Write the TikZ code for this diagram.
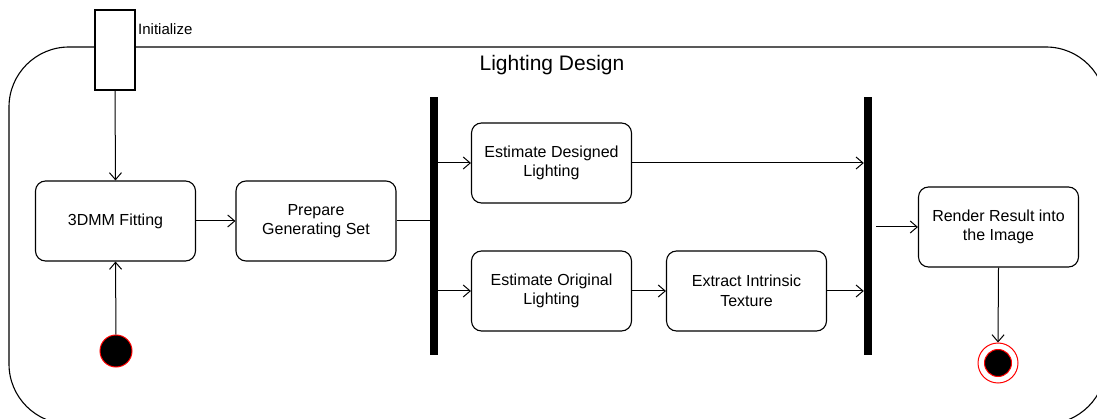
\documentclass[tikz,border=0pt]{standalone}
\usepackage{fontspec}
\setmainfont{Liberation Sans}
\usetikzlibrary{arrows.meta}
\begin{document}
\begin{tikzpicture}[x=1pt,y=-1pt,
  every node/.style={inner sep=0pt},
  action/.style={draw, line width=1.1pt, rounded corners=10pt, minimum width=160pt, minimum height=80pt,
    align=center, font=\fontsize{16}{19.5}\selectfont},
  bar/.style={fill=black, draw=none},
  flow/.style={line width=1pt, -{Straight Barb[length=7pt,width=12pt,line width=1pt]}},
  plain/.style={line width=1pt}]
\useasboundingbox (0,0) rectangle (1097,419);
\begin{scope}
\clip (0,0) rectangle (1097,419);
% enclosing activity frame
\draw[line width=1.1pt, rounded corners=60pt] (9,47) rectangle (1106,424);
\end{scope}
\node[font=\fontsize{21}{25}\selectfont] (title) at (552,65) {Lighting Design};

% entry pin
\node[draw, fill=white, line width=1.1pt, minimum width=40pt, minimum height=80pt] (init) at (115,50) {};
\node[anchor=west, font=\fontsize{15}{18}\selectfont] (initlbl) at (138,29) {Initialize};

% actions
\node[action] (fit) at (115.5,221) {3DMM Fitting};
\node[action] (prep) at (316,221) {Prepare\\Generating Set};
\node[action] (design) at (551.5,163) {Estimate Designed\\Lighting};
\node[action] (orig) at (551.5,291) {Estimate Original\\Lighting};
\node[action] (extract) at (746.5,291) {Extract Intrinsic\\Texture};
\node[action] (render) at (998.5,227) {Render Result into\\the Image};

% fork and join bars
\node[bar, minimum width=8pt, minimum height=258pt] (fork) at (434,226) {};
\node[bar, minimum width=8pt, minimum height=258pt] (join) at (868,226) {};

% initial and final nodes
\node[circle, fill=black, draw=red, line width=1pt, minimum size=32pt] (start) at (116,351) {};
\node[circle, draw=red, line width=1pt, minimum size=40pt] (stop) at (998,363) {};
\node[circle, fill=black, draw=red, line width=1pt, minimum size=27pt] (stopin) at (998,363) {};

% connectors
\draw[flow] (init.south) -- (fit.north);
\draw[flow] (start.north) -- (fit.south);
\draw[flow] (fit.east) -- (prep.west);
\draw[plain] (prep.east) -- (fork.west |- prep.east);
\draw[flow] (fork.east |- design.west) -- (design.west);
\draw[flow] (fork.east |- orig.west) -- (orig.west);
\draw[flow] (orig.east) -- (extract.west);
\draw[flow] (design.east) -- (join.west |- design.east);
\draw[flow] (extract.east) -- (join.west |- extract.east);
\coordinate (joinout) at ([xshift=4pt]join.east |- render.west);
\draw[flow] (joinout) -- (render.west);
\draw[flow] (render.south) -- (stop.north);
\end{tikzpicture}
\end{document}
